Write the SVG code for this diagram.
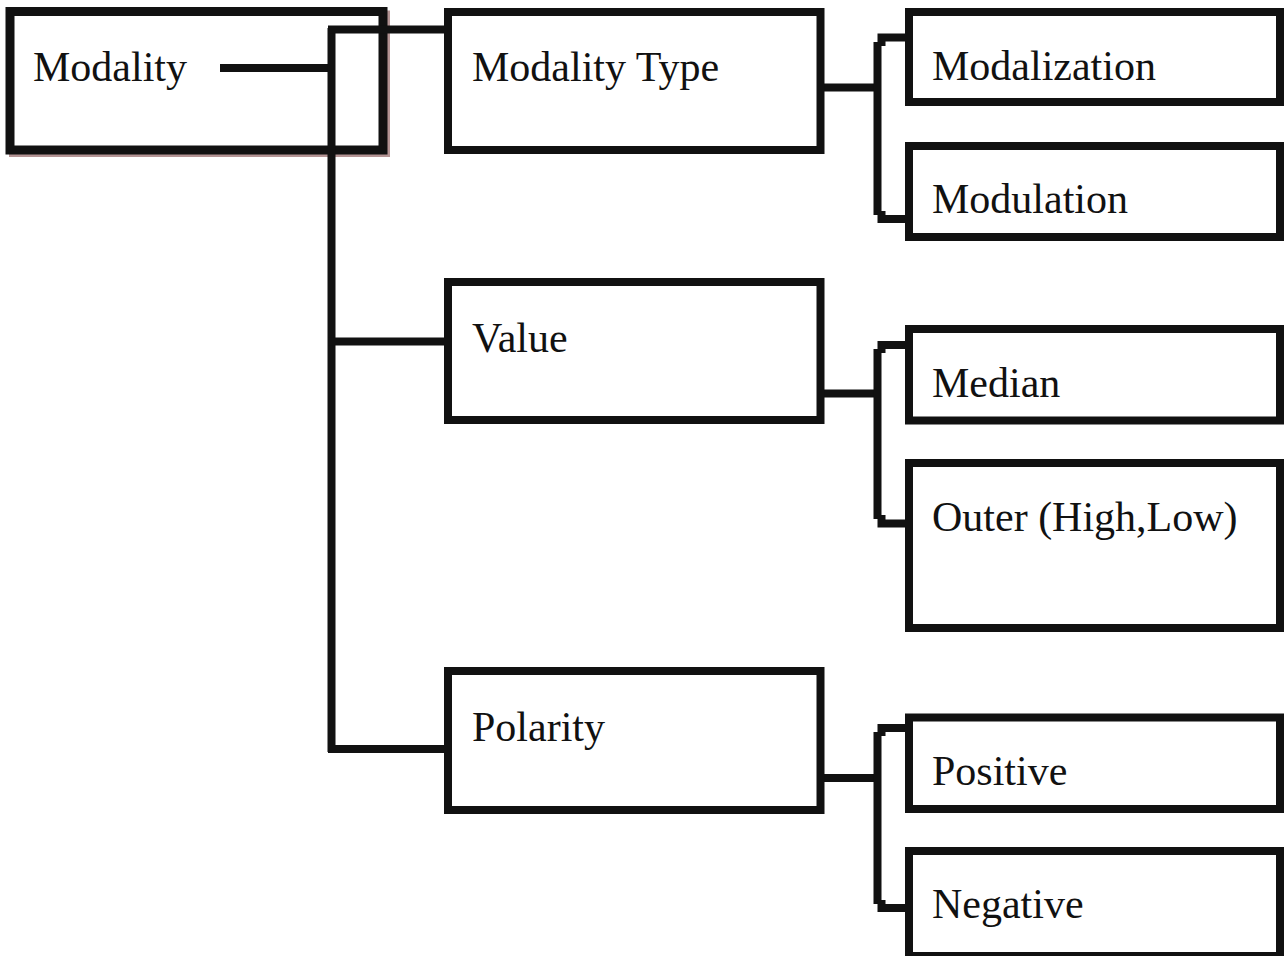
<svg xmlns="http://www.w3.org/2000/svg" width="1284" height="956" viewBox="0 0 1284 956">
<style>
.box{fill:#fff;stroke:#111;stroke-width:8}
.shadow{fill:none;stroke:#b49494;stroke-width:8}
.ln{fill:none;stroke:#111;stroke-width:8;stroke-linecap:butt;stroke-linejoin:miter}
.t{font-family:"Liberation Serif","Times New Roman",serif;font-size:42px;fill:#111}
</style>
<rect width="1284" height="956" fill="#fff"/>
<g id="modality">
<rect class="shadow" x="13" y="14.5" width="373" height="138.5"/>
<rect class="box" x="10" y="11.5" width="373" height="138.5" style="stroke-width:9"/>
<text class="t" x="33" y="81">Modality</text>
</g>
<g id="connectors">
<path class="ln" d="M220,68 H331"/>
<path class="ln" d="M331.5,28 V752"/>
<path class="ln" d="M328,29.5 H448"/>
<path class="ln" d="M328,341.5 H448"/>
<path class="ln" d="M328,749 H448"/>
<path class="ln" d="M820,87.5 H878"/>
<path class="ln" d="M909,37.5 H881.5 V46"/>
<path class="ln" d="M877.5,42 V215"/>
<path class="ln" d="M881.5,211 V219 H909"/>
<path class="ln" d="M820,393.5 H878"/>
<path class="ln" d="M909,345 H881.5 V353"/>
<path class="ln" d="M877.5,349 V519"/>
<path class="ln" d="M881.5,515 V523.5 H909"/>
<path class="ln" d="M820,778 H878"/>
<path class="ln" d="M909,728 H881.5 V736"/>
<path class="ln" d="M877.5,732 V904"/>
<path class="ln" d="M881.5,900 V908 H909"/>
</g>
<g id="modality-type">
<rect class="box" x="448" y="12" width="372.5" height="138"/>
<text class="t" x="472" y="81">Modality Type</text>
</g>
<g id="modalization">
<rect class="box" x="909" y="12" width="371" height="90"/>
<text class="t" x="932" y="80">Modalization</text>
</g>
<g id="modulation">
<rect class="box" x="909" y="146" width="371" height="91"/>
<text class="t" x="932" y="213">Modulation</text>
</g>
<g id="value">
<rect class="box" x="448" y="282" width="372.5" height="138"/>
<text class="t" x="472" y="352">Value</text>
</g>
<g id="median">
<rect class="box" x="909" y="329" width="371" height="91.5"/>
<text class="t" x="932" y="397">Median</text>
</g>
<g id="outer">
<rect class="box" x="909" y="463" width="371" height="165"/>
<text class="t" x="932" y="531">Outer (High,Low)</text>
</g>
<g id="polarity">
<rect class="box" x="448" y="671" width="372.5" height="139"/>
<text class="t" x="472" y="741">Polarity</text>
</g>
<g id="positive">
<rect class="box" x="909" y="717.5" width="371" height="91.5"/>
<text class="t" x="932" y="785">Positive</text>
</g>
<g id="negative">
<rect class="box" x="909" y="851" width="371" height="105"/>
<text class="t" x="932" y="918">Negative</text>
</g>
</svg>
